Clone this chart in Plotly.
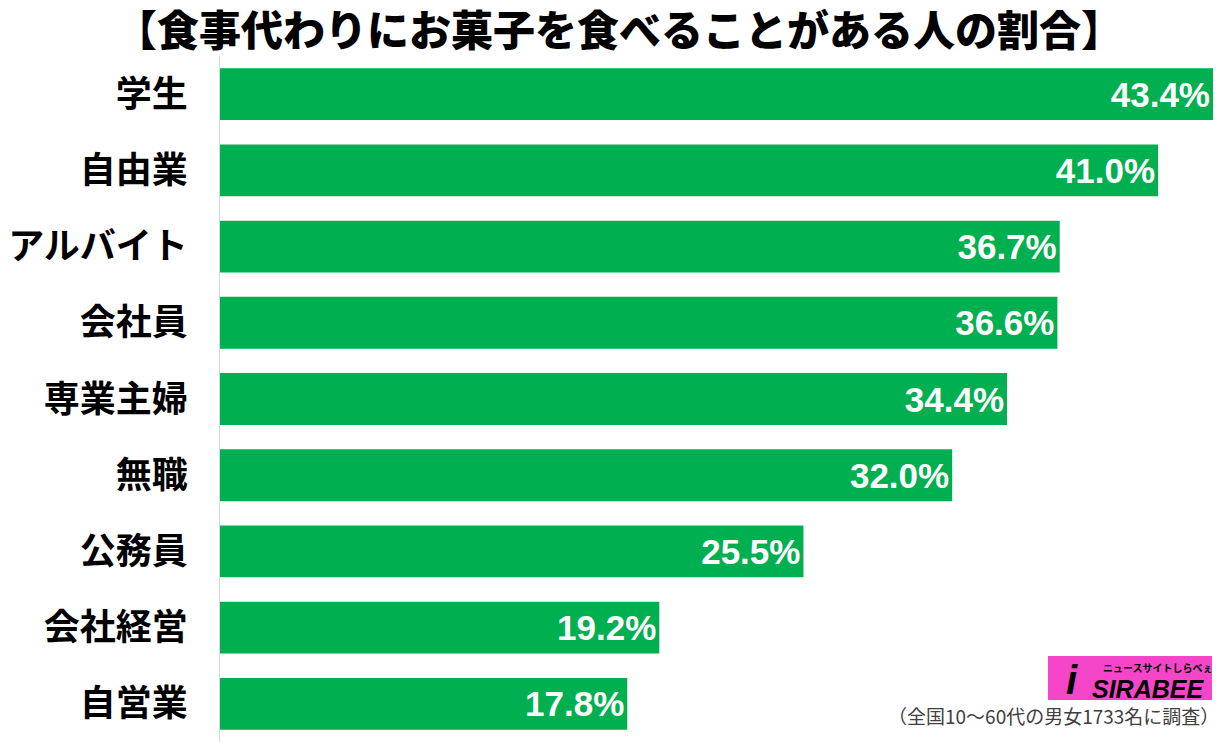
import plotly.graph_objects as go

categories = ["学生", "自由業", "アルバイト", "会社員", "専業主婦", "無職", "公務員", "会社経営", "自営業"]
values = [43.4, 41.0, 36.7, 36.6, 34.4, 32.0, 25.5, 19.2, 17.8]
labels = [f"{v:.1f}%" for v in values]

title_text = "【食事代わりにお菓子を食べることがある人の割合】"
note_text = "（全国10～60代の男女1733名に調査）"

W, H = 1221, 742
L, R, T, B = 220, 0, 56, 0
PW, PH = W - L - R, H - T - B

def px(x):
    return (x - L) / PW

def py(y):
    return (H - B - y) / PH

fig = go.Figure(go.Bar(
    x=values, y=categories, orientation="h",
    marker=dict(color="#00B050", line=dict(width=0)),
    text=labels, textposition="inside", insidetextanchor="end",
    textfont=dict(family="Liberation Sans", size=35, color="white", weight="bold"),
    constraintext="none", cliponaxis=False,
))

fig.update_layout(
    width=W, height=H,
    margin=dict(l=L, r=R, t=T, b=B, pad=0),
    paper_bgcolor="white", plot_bgcolor="white",
    bargap=0.32,
    showlegend=False,
    xaxis=dict(range=[0, 43.75], visible=False, showgrid=False, zeroline=False),
    yaxis=dict(categoryorder="array", categoryarray=categories, autorange=False, range=[8.5, -0.5],
               showline=True, linecolor="#d9d9d9", linewidth=1, ticks="", ticklabelstandoff=24,
               showgrid=False,
               tickfont=dict(family="Noto Sans CJK JP", size=36, color="black", weight="bold")),
)

# title
fig.add_annotation(xref="paper", yref="paper", x=px(619), y=py(28), text=title_text,
                   showarrow=False, xanchor="center", yanchor="middle",
                   font=dict(family="Noto Sans CJK JP", size=42, color="black", weight=900))

# logo
fig.add_shape(type="rect", xref="paper", yref="paper",
              x0=px(1048), x1=px(1212), y0=py(700), y1=py(656),
              fillcolor="#f545c8", line=dict(width=0), layer="above")
fig.add_annotation(xref="paper", yref="paper", x=px(1072), y=py(680), text="<b><i>i</i></b>",
                   showarrow=False, xanchor="center", yanchor="middle",
                   font=dict(family="Liberation Sans", size=40, color="black"))
fig.add_annotation(xref="paper", yref="paper", x=px(1148), y=py(689), text="<b><i>SIRABEE</i></b>",
                   showarrow=False, xanchor="center", yanchor="middle",
                   font=dict(family="Liberation Sans", size=25, color="black"))
fig.add_annotation(xref="paper", yref="paper", x=px(1158), y=py(667), text="<b>ニュースサイトしらべぇ</b>",
                   showarrow=False, xanchor="center", yanchor="middle",
                   font=dict(family="Noto Sans CJK JP", size=10, color="black"))
# footnote
fig.add_annotation(xref="paper", yref="paper", x=px(1221), y=py(715), text=note_text,
                   showarrow=False, xanchor="right", yanchor="middle",
                   font=dict(family="Noto Sans CJK JP", size=19, color="#404040"))

fig.write_html("out.html")
